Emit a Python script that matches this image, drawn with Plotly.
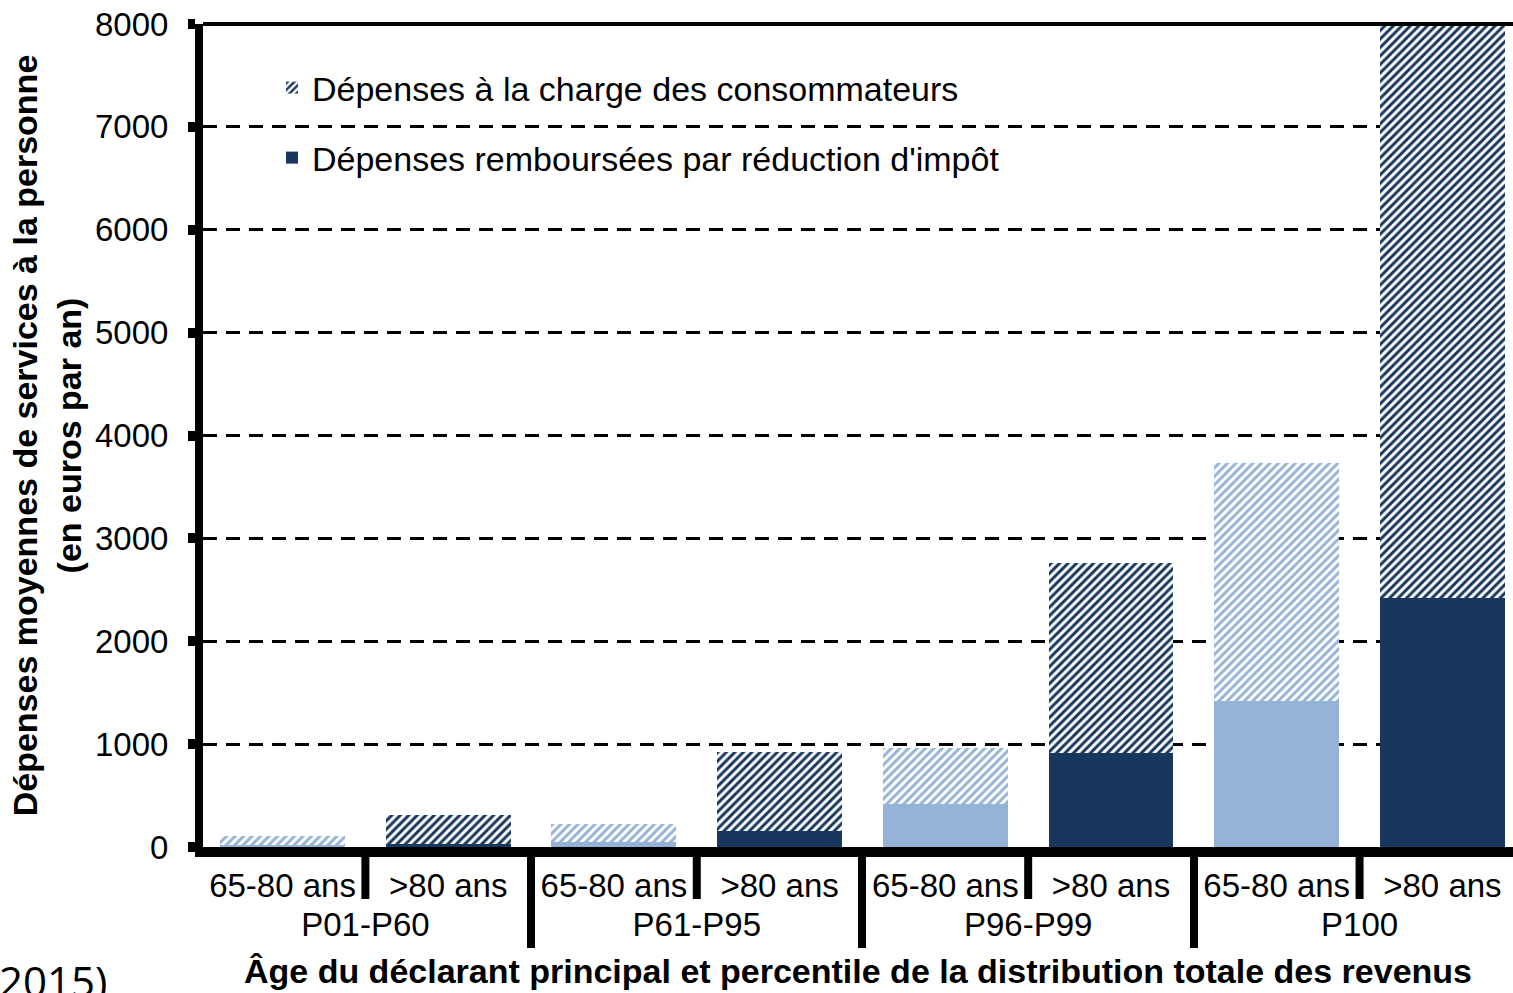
import plotly.graph_objects as go

# ---------------- data ----------------
groups = ["P01-P60", "P61-P95", "P96-P99", "P100"]
ages = ["65-80 ans", ">80 ans"]
# Dépenses remboursées par réduction d'impôt (solid part)
rembourse = [15, 30, 50, 155, 418, 913, 1419, 2420]
# Total dépenses (top of each bar)
total = [107, 311, 224, 923, 962, 2760, 3732, 8000]
# Dépenses à la charge des consommateurs (hatched part)
charge = [t - r for t, r in zip(total, rembourse)]

y_ticks = [0, 1000, 2000, 3000, 4000, 5000, 6000, 7000, 8000]

LIGHT = "#95B3D7"
DARK = "#18375F"

x_outer = [g for g in groups for a in ages]
x_inner = [a for g in groups for a in ages]
is_young = [a == ages[0] for a in x_inner]


def pick(vals, young):
    return [v if (iy == young) else None for v, iy in zip(vals, is_young)]


fig = go.Figure()

# solid parts
fig.add_trace(go.Bar(x=[x_outer, x_inner], y=pick(rembourse, True),
                     marker=dict(color=LIGHT, line=dict(width=0)),
                     showlegend=False, name="remb_light"))
fig.add_trace(go.Bar(x=[x_outer, x_inner], y=pick(rembourse, False),
                     marker=dict(color=DARK, line=dict(width=0)),
                     name="Dépenses remboursées par réduction d'impôt",
                     legend="legend2"))
# hatched parts
pat = dict(shape="/", size=6, solidity=0.5, fgcolor="white", fgopacity=1)
fig.add_trace(go.Bar(x=[x_outer, x_inner], y=pick(charge, True),
                     marker=dict(color=LIGHT, line=dict(width=0),
                                 pattern=dict(**pat, bgcolor=LIGHT)),
                     showlegend=False, name="charge_light"))
fig.add_trace(go.Bar(x=[x_outer, x_inner], y=pick(charge, False),
                     marker=dict(color=DARK, line=dict(width=0),
                                 pattern=dict(**pat, bgcolor=DARK)),
                     name="Dépenses à la charge des consommateurs",
                     legend="legend"))

W, H = 1513, 993
L, R, T, B = 203, 0, 24, 146
plot_h = H - T - B
plot_w = W - L - R
x_range = [-0.5 + 3.3 / 165.7, 7.426]

shapes = []
# top border
shapes.append(dict(type="line", xref="paper", yref="paper", x0=0, x1=1, y0=1, y1=1,
                   line=dict(color="black", width=4), layer="above"))
# short dividers between age sub-categories
for i in [0.5, 2.5, 4.5, 6.5]:
    xp = (i - x_range[0]) / (x_range[1] - x_range[0])
    shapes.append(dict(type="line", xref="paper", yref="paper", x0=xp, x1=xp,
                       y0=0, y1=-52 / plot_h, line=dict(color="black", width=8),
                       layer="above"))

fig.update_layout(
    width=W, height=H,
    margin=dict(l=L, r=R, t=T, b=B),
    barmode="stack", bargap=0.246,
    plot_bgcolor="white", paper_bgcolor="white",
    font=dict(family="Liberation Sans, Arial, sans-serif", size=33, color="black"),
    shapes=shapes,
    legend=dict(x=(272 - L) / plot_w, y=(847 - 88) / plot_h, xanchor="left", yanchor="middle",
                bgcolor="rgba(0,0,0,0)", font=dict(size=34)),
    legend2=dict(x=(272 - L) / plot_w, y=(847 - 158) / plot_h, xanchor="left", yanchor="middle",
                 bgcolor="rgba(0,0,0,0)", font=dict(size=34)),
    annotations=[dict(text="2015)", xref="paper", yref="paper",
                      x=(-3 - L) / plot_w, y=(847 - 950) / plot_h,
                      xanchor="left", yanchor="top", showarrow=False,
                      font=dict(family="Open Sans", size=42, color="black"))],
)

fig.update_xaxes(
    type="multicategory", range=x_range,
    showline=True, linewidth=10, linecolor="black",
    dividercolor="black", dividerwidth=8,
    ticks="", showgrid=False,
    tickfont=dict(size=33),
    title=dict(text="<b>Âge du déclarant principal et percentile de la distribution totale des revenus</b>",
               font=dict(size=34), standoff=22),
)
fig.update_yaxes(
    range=[0, 8000], tickvals=y_ticks,
    showline=True, linewidth=8, linecolor="black",
    ticks="outside", ticklen=7, tickwidth=10, tickcolor="black",
    ticklabelstandoff=13,
    showgrid=True, gridcolor="black", gridwidth=2.5, griddash="14px,9px",
    zeroline=False,
    tickfont=dict(size=33),
    title=dict(text="<b>Dépenses moyennes de services à la personne</b><br><b>(en euros par an)</b>",
               font=dict(size=34), standoff=6),
)

fig.write_html("out.html", config={"displayModeBar": False},
               post_script="document.body.style.margin='0px';")
